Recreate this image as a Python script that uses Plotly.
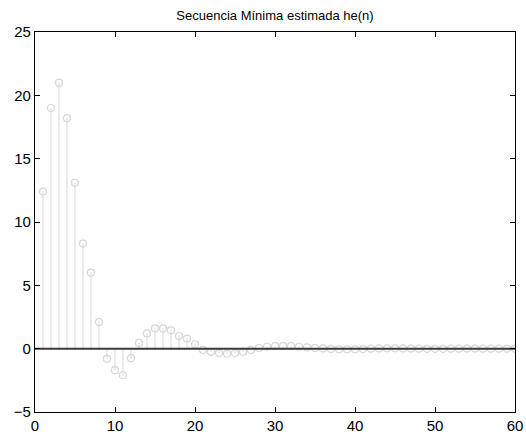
import plotly.graph_objects as go

n = list(range(1, 61))
he = [12.4, 19.0, 21.0, 18.2, 13.1, 8.3, 6.0, 2.1, -0.8, -1.7,
      -2.1, -0.75, 0.45, 1.2, 1.6, 1.6, 1.45, 1.0, 0.8, 0.35,
      -0.1, -0.25, -0.35, -0.4, -0.35, -0.25, -0.1, 0.05, 0.15, 0.2,
      0.2, 0.2, 0.15, 0.1, 0.05, 0.02, -0.02, -0.05, -0.05, -0.05,
      -0.03, 0.0, 0.02, 0.03, 0.03, 0.02, 0.01, 0.0, -0.01, -0.01,
      -0.01, 0.0, 0.0, 0.01, 0.01, 0.0, 0.0, 0.0, 0.0, 0.0]
title = "Secuencia Mínima estimada he(n)"
xticks = [0, 10, 20, 30, 40, 50, 60]
yticks = [-5, 0, 5, 10, 15, 20, 25]

sx, sy = [], []
for xi, yi in zip(n, he):
    sx += [xi, xi, None]
    sy += [0, yi, None]

fig = go.Figure()
fig.add_trace(go.Scatter(x=sx, y=sy, mode="lines",
                         line=dict(color="#e4e4e4", width=1.5),
                         hoverinfo="skip", showlegend=False))
fig.add_trace(go.Scatter(x=n, y=he, mode="markers",
                         marker=dict(symbol="circle-open", size=7,
                                     color="#d6d6d6", line=dict(width=1.2, color="#d6d6d6")),
                         showlegend=False))
fig.add_trace(go.Scatter(x=[xticks[0], xticks[-1]], y=[0, 0], mode="lines",
                         line=dict(color="#3a3a3a", width=2),
                         showlegend=False))

axis_common = dict(showline=True, linecolor="black", linewidth=1.3, mirror="ticks",
                   ticks="inside", ticklen=5, tickcolor="black", tickwidth=1.3, showgrid=False,
                   zeroline=False, automargin=False,
                   tickfont=dict(family="Arial", size=15, color="black"))
fig.update_xaxes(range=[0, 60], tickvals=xticks, **axis_common)
fig.update_yaxes(range=[-5, 25], tickvals=yticks, **axis_common)

fig.update_layout(
    width=526, height=441,
    margin=dict(l=35, r=11, t=32, b=29),
    plot_bgcolor="white", paper_bgcolor="white",
    title=dict(text=title, x=275/526, xanchor="center", y=1 - 15/441, yanchor="middle",
               font=dict(family="Arial", size=13, color="black")),
)
fig.write_html("out.html")
